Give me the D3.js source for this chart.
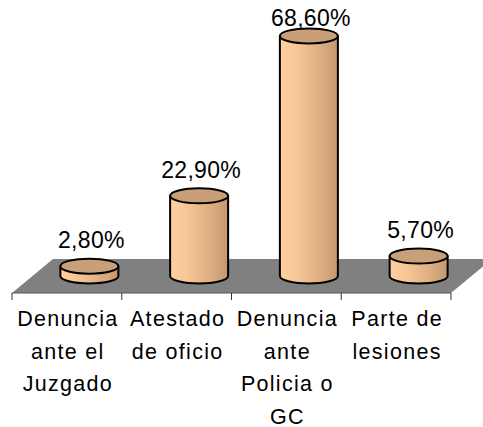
<!DOCTYPE html>
<html>
<head>
<meta charset="utf-8">
<script src="https://cdn.jsdelivr.net/npm/d3@7"></script>
<style>
  html, body { margin: 0; padding: 0; background: #fff; }
  svg { display: block; }
  text { font-family: "Liberation Sans", Arial, sans-serif; fill: #000; }
</style>
</head>
<body>
<script>
// Categories (line breaks as shown under each column)
const categories = [
  "Denuncia\nante el\nJuzgado",
  "Atestado\nde oficio",
  "Denuncia\nante\nPolicia o\nGC",
  "Parte de\nlesiones"
];
// Share of each origin (fraction)
const values = [0.028, 0.229, 0.686, 0.057];
// Hidden value axis extent
const valueDomain = [0, 0.8];

const W = 483, H = 427;
const svg = d3.select("body").append("svg").attr("width", W).attr("height", H);

const es = d3.formatLocale({ decimal: ",", thousands: ".", grouping: [3], currency: ["", " €"] });
const fmt = es.format(".2%");

// Floor geometry (front edge + oblique depth)
const frontY = 293;
const depthX = 41, depthY = -34;
const x = d3.scaleBand().domain(d3.range(categories.length)).range([12, 451]).padding(0);
// Value scale for the mid-depth plane where the cylinders stand
const baseY = frontY + depthY / 2;
const y = d3.scaleLinear().domain(valueDomain).range([baseY, baseY - 280]);

// Gradient for the cylinder body
const defs = svg.append("defs");
const grad = defs.append("linearGradient").attr("id", "cyl").attr("x1", 0).attr("x2", 1).attr("y1", 0).attr("y2", 0);
[[0, "#ffcf9f"], [0.25, "#f8c898"], [0.5, "#e9ba8c"], [0.7, "#dcae82"], [0.85, "#d1a37a"], [1, "#c39671"]]
  .forEach(([o, c]) => grad.append("stop").attr("offset", o).attr("stop-color", c));

// Floor
const [x0, x1] = x.range();
svg.append("path")
  .attr("d", `M${x0},${frontY} L${x1},${frontY} L${x1 + depthX},${frontY + depthY} L${x0 + depthX},${frontY + depthY} Z`)
  .attr("fill", "#808080");
svg.append("line")
  .attr("x1", x0).attr("x2", x1).attr("y1", frontY).attr("y2", frontY)
  .attr("stroke", "#555").attr("stroke-width", 1);

// Category ticks
const tickPos = d3.range(categories.length + 1).map(i => x0 + i * x.step());
svg.append("g").selectAll("line").data(tickPos).join("line")
  .attr("x1", d => d).attr("x2", d => d)
  .attr("y1", frontY).attr("y2", frontY + 7)
  .attr("stroke", "#333").attr("stroke-width", 1);

// Cylinders
const rx = 29, ry = 7.5;
const shift = depthX / 2 + 2;
const bars = svg.append("g").selectAll("g").data(values).join("g");
bars.each(function (v, i) {
  const g = d3.select(this);
  const cx = x(i) + x.bandwidth() / 2 + shift;
  const yt = y(v), yb = y(0);
  g.append("path")
    .attr("d", `M${cx - rx},${yt} L${cx - rx},${yb} A${rx},${ry} 0 0 0 ${cx + rx},${yb} L${cx + rx},${yt} Z`)
    .attr("fill", "url(#cyl)")
    .attr("stroke", "#000").attr("stroke-width", 2).attr("stroke-linejoin", "round");
  g.append("ellipse")
    .attr("cx", cx).attr("cy", yt).attr("rx", rx).attr("ry", ry)
    .attr("fill", "#c99f79")
    .attr("stroke", "#000").attr("stroke-width", 2);
  // Value label above the cylinder, kept inside the plot area
  g.append("text")
    .attr("x", cx + 2)
    .attr("y", Math.max(yt - 18, 26))
    .attr("text-anchor", "middle")
    .style("font-size", "23px")
    .style("letter-spacing", "0.3px")
    .text(fmt(v));
});

// Category labels
const lab = svg.append("g").selectAll("text").data(categories).join("text")
  .attr("text-anchor", "middle")
  .style("font-size", "21.5px")
  .style("letter-spacing", "1.3px");
lab.each(function (c, i) {
  const t = d3.select(this);
  const cx = x(i) + x.bandwidth() / 2 + 1;
  c.split("\n").forEach((line, k) => {
    t.append("tspan").attr("x", cx).attr("y", 326 + k * 32.5).text(line);
  });
});
</script>
</body>
</html>
